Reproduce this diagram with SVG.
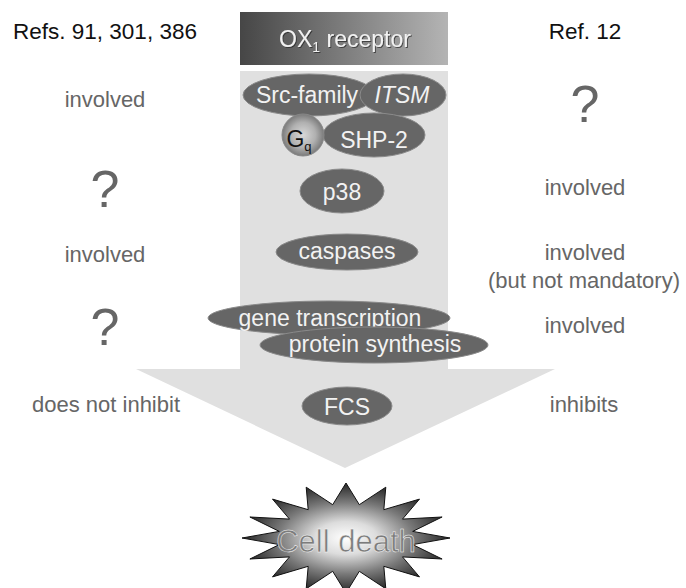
<svg xmlns="http://www.w3.org/2000/svg" width="686" height="588" viewBox="0 0 686 588">
<defs>
<linearGradient id="recGrad" x1="0" y1="0" x2="1" y2="0">
<stop offset="0" stop-color="#464646"/>
<stop offset="1" stop-color="#b4b4b4"/>
</linearGradient>
<radialGradient id="gqGrad" cx="0.5" cy="0.5" r="0.5">
<stop offset="0" stop-color="#d8d8d8"/>
<stop offset="0.6" stop-color="#b0b0b0"/>
<stop offset="1" stop-color="#7a7a7a"/>
</radialGradient>
<radialGradient id="starGrad" cx="0.5" cy="0.5" r="0.5">
<stop offset="0" stop-color="#ffffff"/>
<stop offset="0.3" stop-color="#dcdcdc"/>
<stop offset="0.65" stop-color="#7a7a7a"/>
<stop offset="1" stop-color="#262626"/>
</radialGradient>
<filter id="shadow" x="-10%" y="-20%" width="120%" height="140%">
<feDropShadow dx="1" dy="1" stdDeviation="0.6" flood-color="#222" flood-opacity="0.7"/>
</filter>
</defs>
<style>
text{font-family:"Liberation Sans",Arial,sans-serif;}
.hdr{font-size:22.5px;fill:#111;text-anchor:middle;}
.side{font-size:22px;fill:#666;text-anchor:middle;}
.q{font-size:52px;fill:#666;text-anchor:middle;}
.ell{fill:#666;stroke:#8a8a8a;stroke-width:1;}
.lbl{font-size:23px;fill:#f2f2f2;text-anchor:middle;}
</style>
<rect width="686" height="588" fill="#ffffff"/>

<g id="connectors">
<polygon points="240,71 448,71 448,369 555,369 345,468 136,369 240,369" fill="#e0e0e0"/>
</g>

<g id="receptor">
<rect x="240" y="12" width="208" height="53" fill="url(#recGrad)"/>
<text class="lbl" x="345" y="47" filter="url(#shadow)" fill="#fff">OX<tspan font-size="14" dy="5">1</tspan><tspan dy="-5"> receptor</tspan></text>
</g>

<g id="src-family">
<ellipse class="ell" cx="309" cy="95" rx="66" ry="21"/>
<text class="lbl" x="307" y="103">Src-family</text>
</g>
<g id="itsm">
<ellipse class="ell" cx="403" cy="95" rx="43" ry="21" stroke="#c8c8c8"/>
<text class="lbl" x="402" y="103" font-style="italic">ITSM</text>
</g>
<g id="shp2">
<ellipse class="ell" cx="374" cy="135" rx="51" ry="22"/>
<text class="lbl" x="374" y="148">SHP-2</text>
</g>
<g id="gq">
<circle cx="303" cy="135" r="21" fill="url(#gqGrad)" stroke="#888" stroke-width="1"/>
<text x="299" y="147" font-size="23" fill="#111" text-anchor="middle">G<tspan font-size="13" dy="4">q</tspan></text>
</g>

<g id="p38">
<ellipse class="ell" cx="342" cy="191" rx="42" ry="22"/>
<text class="lbl" x="342" y="200">p38</text>
</g>
<g id="caspases">
<ellipse class="ell" cx="347" cy="252" rx="71" ry="18"/>
<text class="lbl" x="347" y="259">caspases</text>
</g>
<g id="gene-transcription">
<ellipse class="ell" cx="329" cy="318" rx="121" ry="17"/>
<text class="lbl" x="330" y="326">gene transcription</text>
</g>
<g id="protein-synthesis">
<ellipse class="ell" cx="374" cy="345" rx="114" ry="18" stroke="#999"/>
<text class="lbl" x="375" y="352">protein synthesis</text>
</g>
<g id="fcs">
<ellipse class="ell" cx="347" cy="406" rx="45" ry="19"/>
<text class="lbl" x="347" y="415">FCS</text>
</g>

<g id="cell-death">
<polygon fill="url(#starGrad)" stroke="#111" stroke-width="1" points="450,538 412.7,544.6 442.1,559 402.5,556.9 419.5,576.9 383.8,566.3 385.8,588.8 359.3,571.3 346,593 332.7,571.3 306.2,588.8 308.2,566.3 272.5,576.9 289.5,556.9 249.9,559 279.3,544.6 242,538 279.3,531.4 249.9,517 289.5,519.1 272.5,499.1 308.2,509.7 306.2,487.2 332.7,504.7 346,483 359.3,504.7 385.8,487.2 383.8,509.7 419.5,499.1 402.5,519.1 442.1,517 412.7,531.4"/>
<text x="346" y="552" font-size="31" fill="#7c7c7c" stroke="#f4f4f4" stroke-width="0.5" text-anchor="middle">Cell death</text>
</g>

<g id="left-column">
<text class="hdr" x="105" y="39">Refs. 91, 301, 386</text>
<text class="side" x="105" y="107">involved</text>
<text class="q" x="105" y="207">?</text>
<text class="side" x="105" y="262">involved</text>
<text class="q" x="105" y="345">?</text>
<text class="side" x="106" y="412">does not inhibit</text>
</g>

<g id="right-column">
<text class="hdr" x="585" y="39">Ref. 12</text>
<text class="q" x="585" y="122">?</text>
<text class="side" x="585" y="195">involved</text>
<text class="side" x="585" y="260">involved</text>
<text class="side" x="584" y="288">(but not mandatory)</text>
<text class="side" x="585" y="333">involved</text>
<text class="side" x="584" y="412">inhibits</text>
</g>
</svg>
